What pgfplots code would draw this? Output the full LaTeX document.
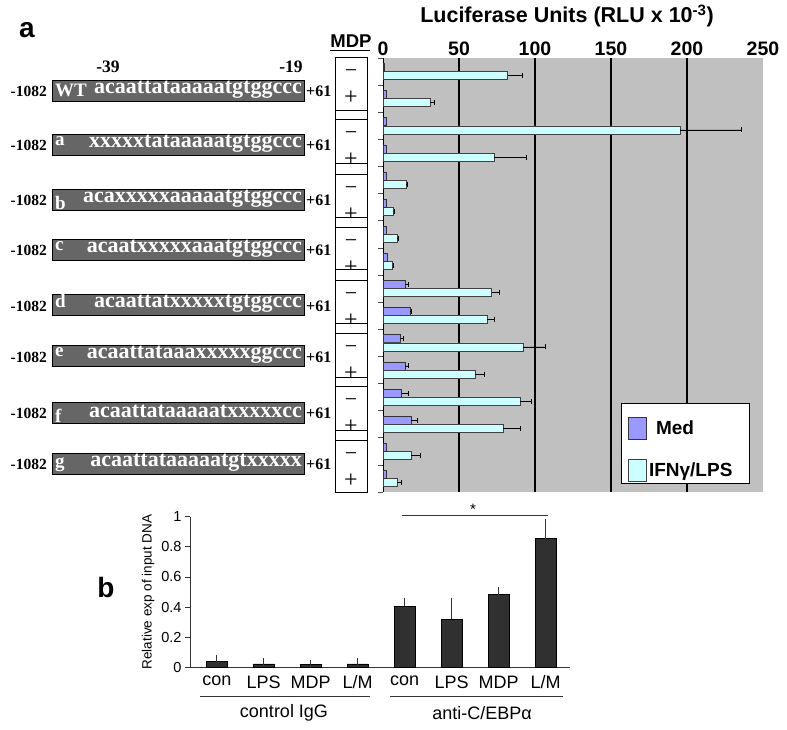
\documentclass[border=0pt]{standalone}
\usepackage{pgfplots}
\usepackage{pgfplotstable}
\pgfplotsset{compat=1.18}
\usepackage{fontspec}
\setmainfont{Liberation Sans}
\newfontfamily\tms{Liberation Serif}
\definecolor{medc}{HTML}{9999FF}
\definecolor{ifnc}{HTML}{CCFFFF}
\definecolor{bgc}{HTML}{C0C0C0}
\definecolor{seqc}{HTML}{666666}
\definecolor{barc}{HTML}{303030}

% Med values that carry an error bar
\pgfplotstableread{
y x ex
8.35 14.5 2.5
9.35 18 0.5
10.35 11.6 1.5
11.35 14.5 2
12.35 12.3 4.7
13.35 18.4 4.2
}\medtab

% Med values without a visible error bar
\pgfplotstableread{
y x
0.35 1
1.35 2
2.35 2
3.35 2
4.35 2
5.35 2
6.35 2
7.35 3
14.35 2
15.35 2
}\medsmall

\pgfplotstableread{
y x ex
0.65 82 10
1.65 31 2.5
2.65 195.5 40.5
3.65 73 21.5
4.65 15 1
5.65 7 0.8
6.65 9.4 0.5
7.65 6.4 0.5
8.65 71.5 5
9.65 68.6 5
10.65 92.3 14.7
11.65 60.5 6.5
12.65 90 7.8
13.65 79 11.6
14.65 18.4 6.4
15.65 9.4 2.4
}\ifntab

\pgfplotstableread{
x y e
0 0.037 0.02
1 0.022 0.013
2 0.02 0.005
3 0.022 0.013
4 0.404 0.028
5 0.318 0.114
6 0.483 0.022
7 0.854 0.106
}\chiptab

\begin{document}
\begin{tikzpicture}
\useasboundingbox (0pt,0pt) rectangle (787pt,-729pt);

% ---------- top chart ----------
\begin{axis}[
 at={(383pt,-492pt)}, anchor=south west,
 scale only axis, width=380pt, height=434pt,
 xmin=0, xmax=250, ymin=0, ymax=16, y dir=reverse,
 axis background/.style={fill=bgc},
 axis x line*=top, axis y line*=left,
 x axis line style={draw=none},
 y axis line style={-, black, line width=0.8pt},
 xtick={50,100,150,200}, xticklabels={50,100,150,200},
 extra x ticks={0,250}, extra x tick labels={0,250},
 extra x tick style={grid=none},
 xmajorgrids, major grid style={black, line width=1.1pt},
 xtick style={draw=none},
 /pgf/number format/assume math mode=true,
 xticklabel style={font=\bfseries\fontsize{19.5}{20}\selectfont, yshift=-6pt},
 ytick={0,...,16}, yticklabels={},
 ytick style={black!70, line width=0.6pt},
 tick align=outside, major tick length=5pt,
 xbar, bar width=8pt, bar shift=0pt,
 clip=false,
 legend style={at={(axis cs:161.2,13.235)}, anchor=north west, draw=none,
   fill=none, font=\bfseries\fontsize{19}{20}\selectfont,
   row sep=19pt, inner xsep=0pt, inner ysep=0pt, cells={anchor=west}},
 legend image code/.code={\draw[#1, line width=0.8pt] (0pt,-11pt) rectangle (18pt,11pt);},
]
\draw[fill=white, draw=black, line width=0.8pt] (axis cs:156.6,12.72) rectangle (axis cs:240.8,15.7);
\addplot[fill=medc, draw=black!80, line width=0.6pt,
  error bars/.cd, x dir=plus, x explicit, error mark=|,
  error bar style={black, line width=0.7pt},
  error mark options={black, line width=0.8pt, mark size=2.5pt}]
  table[x=x, y=y, x error=ex] {\medtab};
\addlegendentry{\hspace{7pt}Med}
\addplot[fill=ifnc, draw=black!75, line width=0.6pt,
  error bars/.cd, x dir=plus, x explicit, error mark=|,
  error bar style={black, line width=0.7pt},
  error mark options={black, line width=0.8pt, mark size=2.5pt}]
  table[x=x, y=y, x error=ex] {\ifntab};
\addlegendentry{IFNγ/LPS}
\addplot[fill=medc, draw=black!80, line width=0.6pt, forget plot]
  table[x=x, y=y] {\medsmall};
\end{axis}

% ---------- bottom chart ----------
\begin{axis}[
 at={(190pt,-667.3pt)}, anchor=south west,
 scale only axis, width=380pt, height=150.6pt,
 xmin=-0.57, xmax=7.52, ymin=0, ymax=1,
 axis x line*=bottom, axis y line*=left,
 axis line style={-, black!80, line width=0.8pt},
 ytick={0,0.2,0.4,0.6,0.8,1}, yticklabels={0,0.2,0.4,0.6,0.8,1},
 xtick={0,...,7}, xticklabels={con,LPS,MDP,L/M,con,LPS,MDP,L/M},
 xtick style={draw=none},
 ytick style={black!80, line width=0.8pt},
 tick align=outside, major tick length=5pt,
 /pgf/number format/assume math mode=true,
 yticklabel style={font=\fontsize{14.5}{15}\selectfont},
 xticklabel style={font=\fontsize{18}{18}\selectfont},
 ylabel={Relative exp of input DNA},
 ylabel style={font=\fontsize{13.5}{14}\selectfont},
 ybar, bar width=21pt, bar shift=0pt,
 clip=false,
]
\addplot[fill=barc, draw=black, line width=0.6pt,
  error bars/.cd, y dir=plus, y explicit,
  error bar style={black!80, line width=0.8pt},
  error mark options={black!80, line width=0.8pt, mark size=4pt}]
  table[x=x, y=y, y error=e] {\chiptab};
\end{axis}

% ---------- annotations (px coordinates) ----------
\begin{scope}[x=1pt, y=-1pt]
\node[font=\bfseries\fontsize{28}{28}\selectfont] at (27,30) {a};
\node[font=\bfseries\fontsize{28}{28}\selectfont] at (106,587) {b};
\node[font=\bfseries\fontsize{21.5}{22}\selectfont] at (567,16) {Luciferase Units (RLU x 10\textsuperscript{-3})};

% MDP header
\node[font=\bfseries\fontsize{18.5}{19}\selectfont, inner sep=0pt] (mdp) at (351,41) {MDP};
\draw[line width=0.9pt] (mdp.south west)++(0,3) -- ++(40,0);

% -39, -19
\node[font=\tms\bfseries\fontsize{17.5}{18}\selectfont, inner sep=0pt] at (108,67) {-39};
\node[font=\tms\bfseries\fontsize{17.5}{18}\selectfont, inner sep=0pt] at (291,67) {-19};

% sequence boxes
\foreach \yc/\lab/\ly/\seq in {
  90.5/WT/0/acaattataaaaatgtggccc,
  144.5/a/-3/xxxxxtataaaaatgtggccc,
  199.5/b/3/acaxxxxxaaaaatgtggccc,
  249.5/c/-3/acaatxxxxxaaatgtggccc,
  305/d/-4/acaattatxxxxxtgtggccc,
  356/e/-4/acaattataaaxxxxxggccc,
  412.5/f/3/acaattataaaaatxxxxxcc,
  463.5/g/1/acaattataaaaatgtxxxxx} {
  \draw[fill=seqc, draw=black, line width=0.8pt] (52,\yc-10.5) rectangle (304,\yc+10.5);
  \node[font=\tms\bfseries\fontsize{15.5}{16}\selectfont, anchor=east, inner sep=0pt] at (47,\yc+1) {-1082};
  \node[font=\tms\bfseries\fontsize{16}{16}\selectfont, anchor=west, inner sep=0pt] at (306,\yc+1) {+61};
  \node[font=\tms\bfseries\fontsize{19}{19}\selectfont, text=white, anchor=west, inner sep=0pt] at (55,\yc+\ly) {\lab};
  \node[font=\tms\bfseries\fontsize{22}{22}\selectfont, text=white, anchor=east, inner sep=0pt] at (302,\yc-1) {\seq};
}

% MDP column boxes
\foreach \t/\b in {57/110,119/163,174/217,227/269,280/323,333/377,386/430,440/492} {
  \draw[fill=white, line width=0.8pt] (335,\t) rectangle (367,\b);
  \node[font=\tms\fontsize{22}{22}\selectfont] at (351,\t+17) {\char"2212};
  \node[font=\tms\fontsize{24}{24}\selectfont] at (351,\t+41) {+};
}
\foreach \t/\b in {110/119,163/174,217/227,269/280,323/333,377/386,430/440} {
  \draw[fill=white, line width=0.8pt] (335,\t) rectangle (367,\b);
}

% bottom chart annotations
\draw[line width=0.8pt, black!80] (401.7,515) -- (548.3,515);
\node[font=\fontsize{15}{15}\selectfont] at (473,509) {*};
\draw[line width=0.8pt, black!80] (200,696) -- (370,696);
\draw[line width=0.8pt, black!80] (390,696) -- (563,696);
\node[font=\fontsize{18}{18}\selectfont] at (284,713) {control IgG};
\node[font=\fontsize{18}{18}\selectfont] at (482,713) {anti-C/EBPα};
\end{scope}
\end{tikzpicture}
\end{document}
